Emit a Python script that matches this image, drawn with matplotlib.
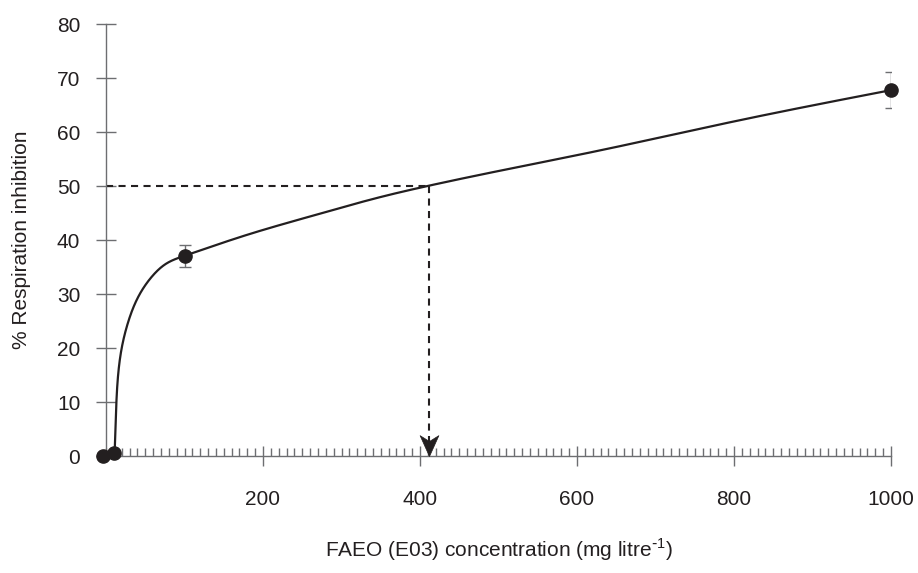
import numpy as np
import matplotlib
matplotlib.use("Agg")
import matplotlib.pyplot as plt
from matplotlib.ticker import MultipleLocator, FixedLocator
from matplotlib.path import Path

plt.rcParams['font.family'] = ['Liberation Sans', 'DejaVu Sans']

# measured points
conc = [-4, 10, 100, 1000]
inhibition = [0.0, 0.6, 37.1, 67.8]
inhibition_err = [0.0, 0.0, 2.0, 3.4]

# fitted curve
curve_x = [11.0, 12.4, 14.9, 20.0, 28.4, 41.1, 58.2, 77.3, 100.0, 180.0, 265.0, 350.0,
           408.5, 520.0, 625.0, 800.0, 1000.0]
curve_y = [0.6, 6.7, 14.1, 20.0, 24.9, 29.5, 33.2, 35.7, 37.1, 41.0, 44.6, 48.0,
           50.0, 53.4, 56.5, 62.0, 67.8]

ec50_x = 412
ec50_y = 50

x_major = [200, 400, 600, 800, 1000]
y_major = [0, 10, 20, 30, 40, 50, 60, 70, 80]


def natural_spline(t, v, tn):
    t = np.asarray(t, float); v = np.asarray(v, float)
    n = len(t); h = np.diff(t)
    A = np.zeros((n, n)); b = np.zeros(n)
    A[0, 0] = 1; A[-1, -1] = 1
    for i in range(1, n - 1):
        A[i, i - 1] = h[i - 1]; A[i, i] = 2 * (h[i - 1] + h[i]); A[i, i + 1] = h[i]
        b[i] = 6 * ((v[i + 1] - v[i]) / h[i] - (v[i] - v[i - 1]) / h[i - 1])
    M = np.linalg.solve(A, b)
    idx = np.clip(np.searchsorted(t, tn) - 1, 0, n - 2)
    hh = h[idx]; a = t[idx + 1] - tn; c = tn - t[idx]
    return (M[idx] * a**3 / (6 * hh) + M[idx + 1] * c**3 / (6 * hh)
            + (v[idx] / hh - M[idx] * hh / 6) * a + (v[idx + 1] / hh - M[idx + 1] * hh / 6) * c)


axis_col = '#6d6e71'
ink = '#231f20'

fig = plt.figure(figsize=(9.18, 5.73), dpi=100)
ax = fig.add_axes([106/918, 1 - 456/573, 785/918, (456 - 24.3)/573])
ax.set_xlim(0, 1000)
ax.set_ylim(0, 80)

# smooth curve through the read points, parameterised by display-space chord length
cx = np.asarray(curve_x); cy = np.asarray(curve_y)
sx, sy = 785/1000, (456 - 24.3)/80
seg = np.hypot(np.diff(cx * sx), np.diff(cy * sy))
tt = np.concatenate([[0], np.cumsum(seg)])
tn = np.linspace(0, tt[-1], 2000)
ax.plot(natural_spline(tt, cx, tn), natural_spline(tt, cy, tn), color=ink, lw=1.6,
        zorder=3, solid_capstyle='butt')

# dashed EC50 guide
dash = (0, (3.4, 2.6))
ax.plot([0, ec50_x], [ec50_y, ec50_y], color=ink, lw=1.5, ls=dash, zorder=2)
ax.plot([ec50_x, ec50_x], [ec50_y, 2.5], color=ink, lw=1.5, ls=dash, zorder=2)
head = Path([(0, 0), (-0.45, 1), (0, 0.72), (0.45, 1), (0, 0)],
            [Path.MOVETO, Path.LINETO, Path.LINETO, Path.LINETO, Path.CLOSEPOLY])
ax.plot([ec50_x], [0], marker=head, ms=30, color=ink, mec=ink, mew=0.5,
        ls='none', clip_on=False, zorder=4)

# error bars
eb = ax.errorbar(conc, inhibition, yerr=inhibition_err, fmt='none', ecolor=axis_col,
                 elinewidth=1.0, capsize=4.3, capthick=1.0, zorder=2)
for c in eb[1]:
    c.set_clip_path(ax.patch)
ax.plot(conc, inhibition, 'o', color=ink, ms=9.5, clip_on=False, zorder=5)

for s in ['top', 'right']:
    ax.spines[s].set_visible(False)
for s in ['left', 'bottom']:
    ax.spines[s].set_color(axis_col)
    ax.spines[s].set_linewidth(1.0)

ax.xaxis.set_major_locator(FixedLocator(x_major))
ax.xaxis.set_minor_locator(MultipleLocator(10))
ax.yaxis.set_major_locator(FixedLocator(y_major))
ax.tick_params(axis='x', which='major', direction='inout', length=15, width=1.0,
               color=axis_col, labelcolor=ink, labelsize=15, pad=17)
ax.tick_params(axis='x', which='minor', direction='in', length=6, width=1.0, color=axis_col)
ax.tick_params(axis='y', which='major', direction='inout', length=15, width=1.0,
               color=axis_col, labelcolor=ink, labelsize=15, pad=11)

ax.set_xlabel('FAEO (E03) concentration (mg litre$^{\\mathregular{\\text{-}1}}$)', fontsize=15,
              color=ink, labelpad=0)
ax.xaxis.set_label_coords(0.5, (456 - 550)/(456 - 24.3), transform=ax.transAxes)
ax.xaxis.label.set_va('center')
ax.set_ylabel('% Respiration inhibition', fontsize=15, color=ink)
ax.yaxis.set_label_coords((22 - 106)/785, 0.5)
ax.yaxis.label.set_va('center')

fig.savefig('out.png', dpi=100)
